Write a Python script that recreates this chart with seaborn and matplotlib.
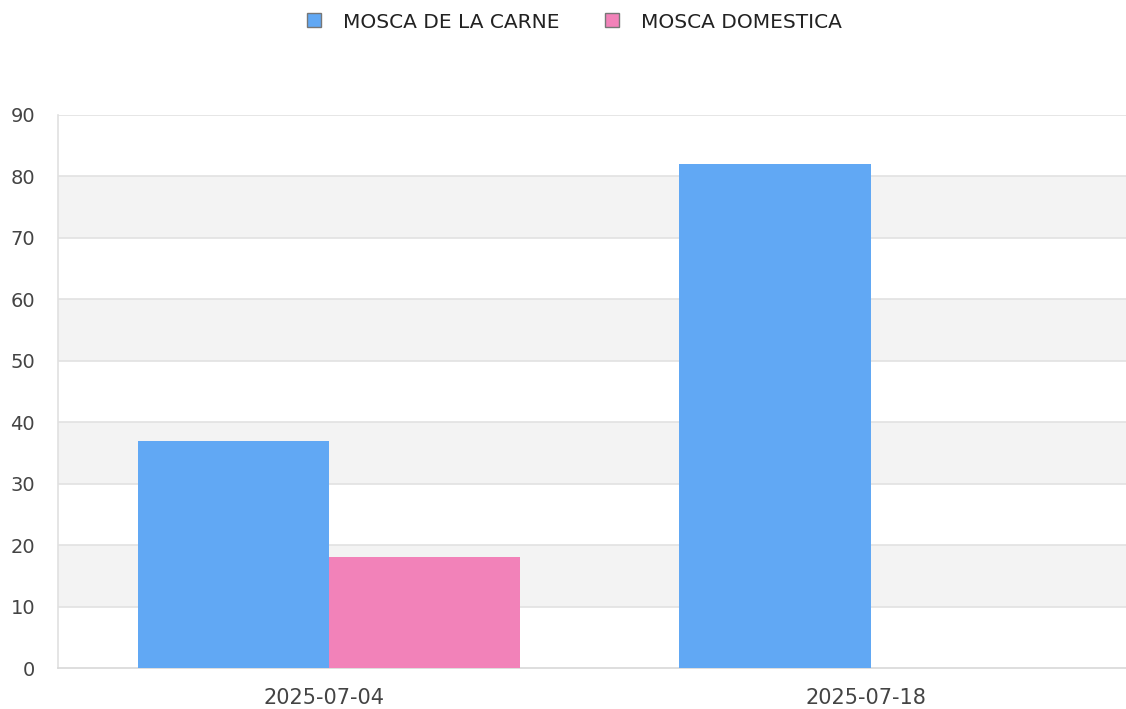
import matplotlib
matplotlib.use("Agg")
import matplotlib.pyplot as plt
import matplotlib.transforms as mtransforms
from matplotlib.lines import Line2D
import seaborn as sns
import pandas as pd

dates = ["2025-07-04", "2025-07-18"]
series_names = ["MOSCA DE LA CARNE", "MOSCA DOMESTICA"]
carne = [37, 82]
domestica = [18, 0]
yticks = [0, 10, 20, 30, 40, 50, 60, 70, 80, 90]

colors = ["#61a8f4", "#f282b9"]

df = pd.DataFrame({
    "fecha": dates * 2,
    "serie": [series_names[0]] * len(dates) + [series_names[1]] * len(dates),
    "valor": carne + domestica,
})

sns.set_theme(style="white")
plt.rcParams['font.family'] = 'sans-serif'
plt.rcParams['font.sans-serif'] = ['DejaVu Sans']

fig = plt.figure(figsize=(11.26, 7.09), dpi=100)
ax = fig.add_axes([58 / 1126, 1 - 668 / 709, (1141.5 - 58) / 1126, (668 - 115) / 709])

sns.barplot(data=df, x="fecha", y="valor", hue="serie", palette=colors,
            width=0.706, linewidth=0, saturation=1, ax=ax, legend=False, zorder=3)

ax.set_ylim(0, 90)
ax.set_yticks(yticks)
# alternating bands (10-20, 30-40, 50-60, 70-80 shaded)
for i in range(len(yticks) - 1):
    if i % 2 == 0:
        continue
    ax.axhspan(yticks[i], yticks[i + 1], color="#f3f3f3", zorder=0, lw=0)
for y in yticks[1:]:
    ax.axhline(y, color="#e2e2e2", lw=1.2, zorder=1)

ax.set_xlabel("")
ax.set_ylabel("")
for s in ["top", "right"]:
    ax.spines[s].set_visible(False)
ax.spines["left"].set_color("#e0e0e0")
ax.spines["left"].set_linewidth(1.2)
ax.spines["bottom"].set_color("#d8d8d8")
ax.spines["bottom"].set_linewidth(1.2)
ax.tick_params(axis="y", length=0, labelsize=14, labelcolor="#444444", pad=16.5)
ax.tick_params(axis="x", length=0, labelsize=15, labelcolor="#444444", pad=14.5)
shift = mtransforms.ScaledTranslation(-5 / 100, 0, fig.dpi_scale_trans)
for lbl in ax.get_xticklabels():
    lbl.set_fontfamily("DejaVu Sans")
    lbl.set_transform(lbl.get_transform() + shift)
for lbl in ax.get_yticklabels():
    lbl.set_fontfamily("DejaVu Sans")

handles = [Line2D([0], [0], marker="s", linestyle="", markersize=9.5,
                  markerfacecolor=c, markeredgecolor="#777777", markeredgewidth=1)
           for c in colors]
fig.legend(handles, series_names, loc="center", bbox_to_anchor=(573 / 1126, 1 - 22 / 709),
           ncol=2, frameon=False, prop={"family": "DejaVu Sans", "size": 14.5},
           handlelength=1.0, handletextpad=0.95, columnspacing=2.1, labelcolor="#222222")

fig.savefig("out.png", dpi=100)
